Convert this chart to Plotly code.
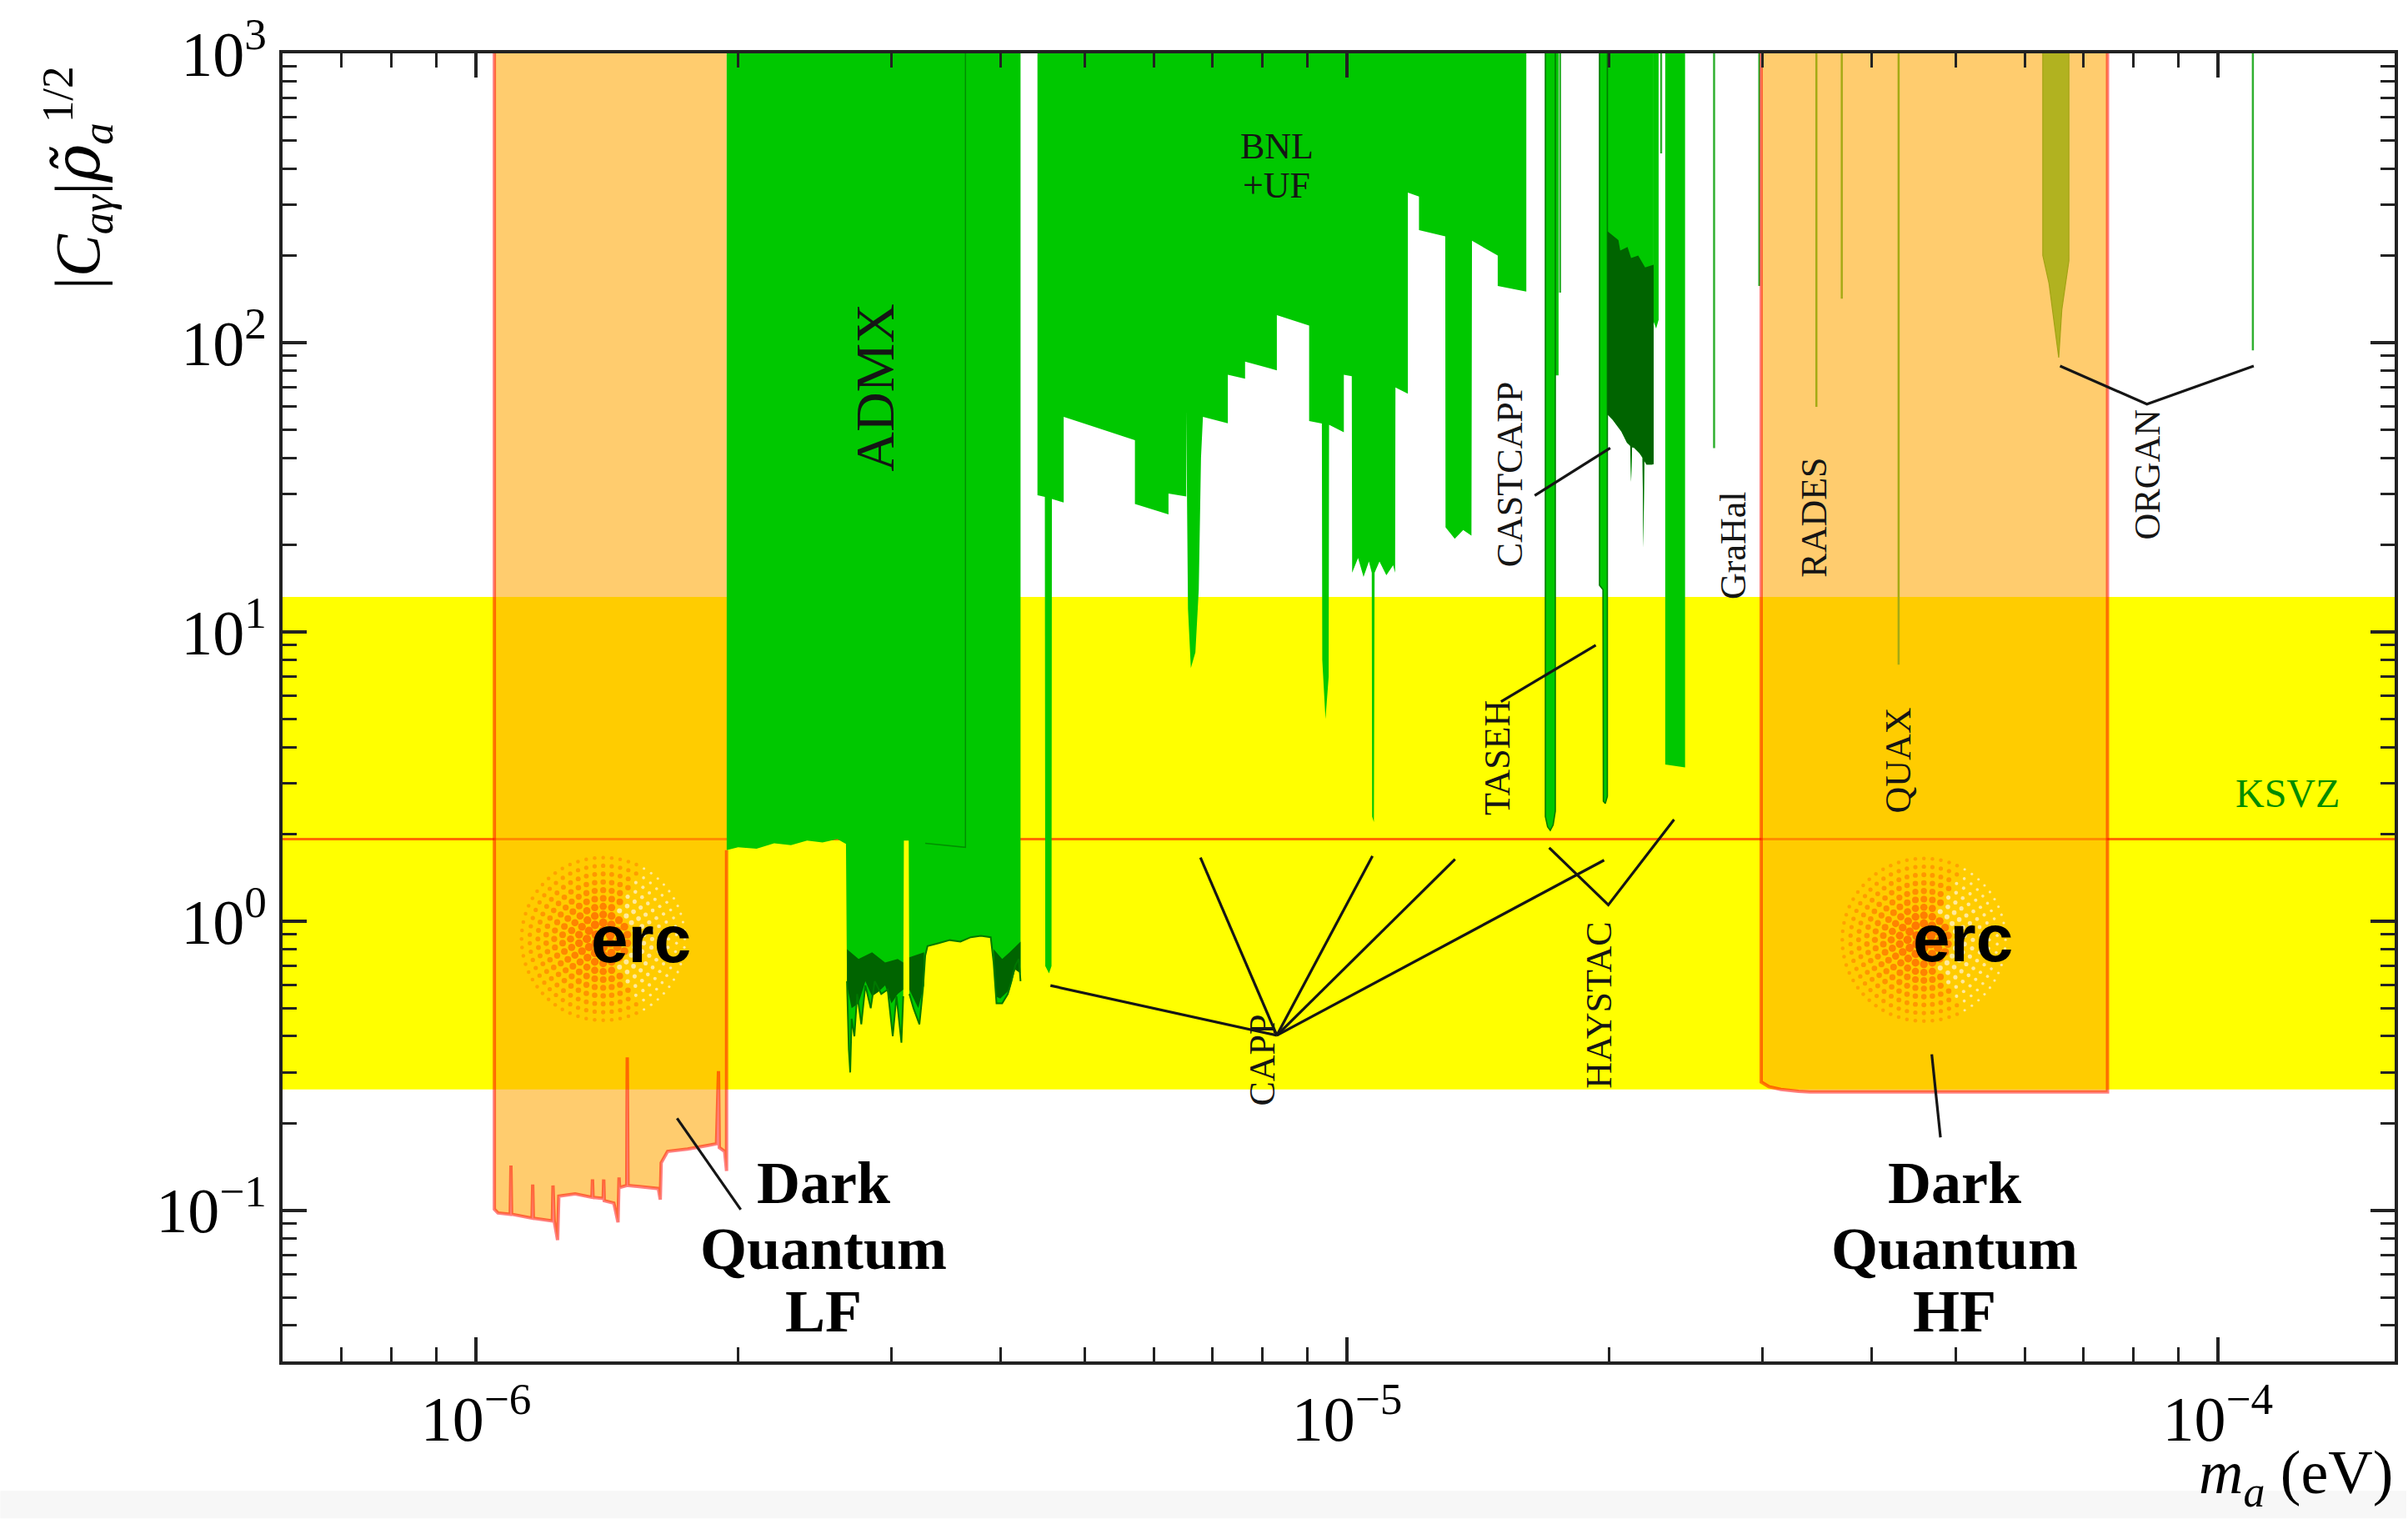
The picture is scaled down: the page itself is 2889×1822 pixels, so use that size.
import math
import plotly.graph_objects as go

# ---------------------------------------------------------------------------
# Axes (log10 of m_a in eV, log10 of |C_ag| rho^1/2)
# ---------------------------------------------------------------------------
X_LOG_RANGE = [-6.222, -3.797]
Y_LOG_RANGE = [-1.522, 3.0]
Y_TOP = 1000.0

WIDTH, HEIGHT = 2889, 1822
MARGIN = dict(l=339, r=14, t=57, b=189)

KSVZ_COUPLING = 1.92
QCD_BAND = (0.262, 13.2)

# ---------------------------------------------------------------------------
# Haloscope exclusion limits: lower edge of each excluded region
# ---------------------------------------------------------------------------
ADMX_MASS = [1.940e-6, 2.00e-6, 2.10e-6, 2.20e-6, 2.30e-6, 2.40e-6, 2.50e-6, 2.60e-6, 2.66e-6,
             2.667e-6, 2.68e-6, 2.69e-6, 2.70e-6, 2.72e-6, 2.74e-6, 2.77e-6, 2.80e-6, 2.84e-6,
             2.87e-6, 2.92e-6, 2.97e-6, 3.01e-6, 3.04e-6, 3.08e-6, 3.095e-6,
             3.100e-6, 3.140e-6,
             3.145e-6, 3.18e-6, 3.23e-6, 3.26e-6, 3.28e-6, 3.30e-6, 3.40e-6, 3.50e-6, 3.60e-6,
             3.70e-6, 3.80e-6, 3.90e-6, 3.93e-6, 3.96e-6, 4.02e-6, 4.08e-6, 4.12e-6, 4.16e-6,
             4.20e-6, 4.22e-6]
ADMX_LIMIT = [1.76, 1.80, 1.78, 1.86, 1.83, 1.90, 1.87, 1.92, 1.85,
              0.62, 0.36, 0.30, 0.46, 0.40, 0.56, 0.44, 0.60, 0.50,
              0.62, 0.56, 0.58, 0.40, 0.55, 0.38, 0.55,
              1.90, 1.90,
              0.56, 0.50, 0.44, 0.58, 0.76, 0.82, 0.84, 0.86, 0.85,
              0.88, 0.89, 0.88, 0.72, 0.52, 0.52, 0.56, 0.62, 0.70,
              0.74, 0.62]

# dense scan noise in the ADMX data (upper and lower envelope, None separates pieces)
ADMX_NOISE_MASS = [2.667e-6, 2.75e-6, 2.85e-6, 2.95e-6, 3.05e-6, 3.095e-6,
                   3.095e-6, 3.05e-6, 3.00e-6, 2.95e-6, 2.90e-6, 2.85e-6, 2.80e-6, 2.75e-6, 2.70e-6, 2.667e-6,
                   None,
                   3.145e-6, 3.27e-6, 3.27e-6, 3.22e-6, 3.145e-6,
                   None,
                   3.93e-6, 4.02e-6, 4.10e-6, 4.22e-6, 4.22e-6, 4.16e-6, 4.10e-6, 4.00e-6, 3.95e-6]
ADMX_NOISE_LIMIT = [0.80, 0.74, 0.78, 0.72, 0.74, 0.72,
                    0.58, 0.56, 0.52, 0.60, 0.57, 0.55, 0.62, 0.52, 0.50, 0.60,
                    None,
                    0.75, 0.78, 0.60, 0.50, 0.58,
                    None,
                    0.80, 0.74, 0.78, 0.85, 0.66, 0.68, 0.58, 0.54, 0.55]

BNL_MASS = [4.413e-6, 4.50e-6, 4.505e-6, 4.55e-6, 4.58e-6, 4.585e-6, 4.73e-6,
            4.73e-6, 5.71e-6, 5.71e-6, 6.24e-6, 6.24e-6, 6.54e-6,
            6.54e-6, 6.57e-6, 6.62e-6, 6.70e-6, 6.76e-6, 6.80e-6, 6.835e-6,
            7.30e-6, 7.30e-6, 7.64e-6, 7.64e-6, 8.31e-6, 8.31e-6, 9.05e-6,
            9.05e-6, 9.36e-6, 9.37e-6, 9.45e-6, 9.53e-6, 9.54e-6, 9.92e-6,
            9.92e-6, 1.013e-5, 1.014e-5, 1.030e-5, 1.045e-5, 1.060e-5, 1.068e-5,
            1.069e-5, 1.074e-5, 1.076e-5, 1.090e-5, 1.110e-5, 1.130e-5, 1.136e-5,
            1.137e-5, 1.175e-5, 1.175e-5, 1.21e-5, 1.21e-5, 1.297e-5,
            1.298e-5, 1.33e-5, 1.36e-5, 1.39e-5, 1.392e-5, 1.49e-5,
            1.49e-5, 1.607e-5]
BNL_LIMIT = [29.7, 29.3, 0.70, 0.66, 0.70, 28.8, 28.0,
             55.4, 46.0, 27.7, 25.5, 30.1, 29.4,
             58.3, 12.0, 7.5, 8.5, 14.0, 40.0, 55.4,
             52.6, 77.4, 75.0, 85.9, 80.2, 124.5, 114.5,
             53.6, 52.5, 8.0, 5.0, 7.0, 52.0, 49.0,
             77.4, 76.5, 16.0, 18.0, 15.5, 17.5, 16.0,
             2.3, 2.2, 16.0, 17.5, 15.7, 17.0, 16.0,
             70.0, 66.6, 330.0, 320.0, 245.0, 233.0,
             23.0, 21.0, 22.5, 21.5, 225.0, 200.0,
             157.0, 150.0]

CAPP_17_MASS = [1.690e-5, 1.700e-5, 1.712e-5, 1.725e-5, 1.735e-5]
CAPP_17_LIMIT = [2.30, 2.12, 2.06, 2.15, 2.40]
CAPP_175_MASS = [1.735e-5, 1.750e-5]
CAPP_175_LIMIT = [77.0, 77.0]

TASEH_MASS = [1.950e-5, 1.968e-5, 1.970e-5, 1.980e-5, 1.991e-5]
TASEH_LIMIT = [14.5, 14.0, 2.60, 2.55, 2.70]

CASTCAPP_MASS = [1.991e-5, 2.020e-5, 2.066e-5, 2.097e-5, 2.115e-5, 2.120e-5, 2.125e-5, 2.136e-5,
                 2.168e-5, 2.185e-5, 2.190e-5, 2.195e-5, 2.208e-5, 2.240e-5, 2.250e-5]
CASTCAPP_LIMIT = [56.5, 54.0, 49.3, 45.1, 44.0, 33.0, 43.5, 43.3,
                  41.4, 40.0, 19.5, 39.0, 37.9, 37.9, 38.0]
CASTCAPP_DENSE_MASS = [1.991e-5, 2.03e-5, 2.05e-5, 2.06e-5, 2.10e-5, 2.12e-5, 2.16e-5, 2.20e-5, 2.25e-5]
CASTCAPP_DENSE_LIMIT = [243.0, 232.0, 226.0, 208.0, 214.0, 196.0, 200.0, 182.0, 186.0]

STRIP_22_MASS = [2.250e-5, 2.265e-5, 2.280e-5]
STRIP_22_LIMIT = [118.0, 112.0, 120.0]

HAYSTAC_MASS = [2.320e-5, 2.445e-5]
HAYSTAC_LIMIT = [3.48, 3.40]

ORGAN_MASS = [6.295e-5, 6.40e-5, 6.48e-5, 6.566e-5, 6.62e-5, 6.70e-5, 6.745e-5]
ORGAN_LIMIT = [200.0, 160.0, 120.0, 88.7, 130.0, 170.0, 192.0]

# single narrow-band measurements: (mass, lower edge)
NARROW_MASS = [1.757e-5, 2.295e-5, 2.640e-5, 2.975e-5, 3.460e-5, 3.700e-5, 4.300e-5, 1.097e-4]
NARROW_LIMIT = [149.0, 451.0, 43.2, 157.0, 60.0, 142.0, 7.7, 94.0]

# ---------------------------------------------------------------------------
# Dark Quantum projections
# ---------------------------------------------------------------------------
DQ_LF_MASS = [1.050e-6, 1.060e-6, 1.095e-6, 1.097e-6, 1.099e-6, 1.160e-6, 1.162e-6, 1.164e-6,
              1.224e-6, 1.226e-6, 1.230e-6, 1.241e-6, 1.245e-6, 1.300e-6, 1.359e-6, 1.361e-6,
              1.363e-6, 1.400e-6, 1.402e-6, 1.404e-6, 1.440e-6, 1.456e-6, 1.460e-6, 1.462e-6,
              1.490e-6, 1.492e-6, 1.495e-6, 1.550e-6, 1.620e-6, 1.628e-6, 1.632e-6, 1.660e-6,
              1.750e-6, 1.850e-6, 1.889e-6, 1.899e-6, 1.903e-6, 1.930e-6, 1.940e-6]
DQ_LF_LIMIT = [0.101, 0.098, 0.097, 0.143, 0.097, 0.094, 0.123, 0.094,
               0.092, 0.122, 0.092, 0.079, 0.112, 0.114, 0.111, 0.128,
               0.111, 0.110, 0.128, 0.108, 0.106, 0.091, 0.130, 0.120,
               0.122, 0.338, 0.122, 0.121, 0.119, 0.109, 0.146, 0.160,
               0.163, 0.168, 0.170, 0.303, 0.165, 0.160, 0.137]

DQ_HF_MASS = [2.99e-5, 3.05e-5, 3.15e-5, 3.30e-5, 3.40e-5, 7.47e-5]
DQ_HF_LIMIT = [0.278, 0.268, 0.262, 0.258, 0.257, 0.257]

# ---------------------------------------------------------------------------
# Leader lines tying labels to their curves
# ---------------------------------------------------------------------------
CAPP_HUB = (8.31e-6, 0.403)
CAPP_TIPS = [(4.567e-6, 0.599), (6.79e-6, 1.658), (1.070e-5, 1.680), (1.331e-5, 1.636), (1.974e-5, 1.625)]
LEADERS = [
    [(1.503e-5, 5.74), (1.931e-5, 8.99)],                      # TASEH
    [(1.643e-5, 29.6), (2.006e-5, 43.2)],                      # CASTCAPP
    [(1.707e-5, 1.794), (1.996e-5, 1.138), (2.375e-5, 2.246)],  # HAYSTAC
    [(6.589e-5, 83.0), (8.29e-5, 61.3), (1.0995e-4, 83.0)],    # ORGAN
    [(1.702e-6, 0.2083), (2.014e-6, 0.1007)],                  # Dark Quantum LF
    [(4.694e-5, 0.3464), (4.803e-5, 0.1789)],                  # Dark Quantum HF
]

# text labels: (text, mass, coupling, angle, size)
EXPERIMENT_LABELS = [
    ("ADMX", 2.870e-6, 70.2, -90, 66),
    ("BNL", 8.31e-6, 476.0, 0, 44),
    ("+UF", 8.31e-6, 350.0, 0, 44),
    ("CASTCAPP", 1.539e-5, 35.1, -90, 44),
    ("TASEH", 1.489e-5, 3.66, -90, 44),
    ("GraHal", 2.777e-5, 20.0, -90, 44),
    ("RADES", 3.437e-5, 24.9, -90, 44),
    ("QUAX", 4.294e-5, 3.59, -90, 44),
    ("ORGAN", 8.31e-5, 34.9, -90, 44),
    ("HAYSTAC", 1.944e-5, 0.511, -90, 44),
    ("CAPP", 8.006e-6, 0.331, -90, 44),
]
DQ_LABEL_LINES = ["Dark", "Quantum"]
DQ_LABEL_Y = [0.1245, 0.0735, 0.0448]
DQ_LF_LABEL_X = 2.504e-6
DQ_HF_LABEL_X = 4.987e-5

ERC_DOT_CENTRES = [(1.400e-6, 0.868), (4.597e-5, 0.862)]
ERC_TEXT_POS = [(1.546e-6, 0.868), (5.099e-5, 0.873)]

GREEN = "#00C800"
DARK_GREEN = "#006400"
ORANGE_FILL = "rgba(255,165,0,0.57)"
DQ_EDGE = "rgba(255,0,0,0.5)"
INK = "#151515"
SERIF = "Liberation Serif"

PLOT_W = WIDTH - MARGIN["l"] - MARGIN["r"]
PLOT_H = HEIGHT - MARGIN["t"] - MARGIN["b"]
PX_PER_DEC_X = PLOT_W / (X_LOG_RANGE[1] - X_LOG_RANGE[0])
PX_PER_DEC_Y = PLOT_H / (Y_LOG_RANGE[1] - Y_LOG_RANGE[0])


def curtain(mass, limit, top=Y_TOP):
    """Closed region from the top of the plot down to a lower limit curve."""
    return [mass[0]] + list(mass) + [mass[-1]], [top] + list(limit) + [top]


def region(mass, limit, color, line_color=None, line_width=0):
    return go.Scatter(x=mass, y=limit, mode="lines", fill="toself", fillcolor=color,
                      line=dict(color=line_color or color, width=line_width),
                      hoverinfo="skip", showlegend=False)


def polyline(xs, ys, color, width):
    return go.Scatter(x=xs, y=ys, mode="lines", line=dict(color=color, width=width),
                      hoverinfo="skip", showlegend=False)


fig = go.Figure()

# QCD axion band and the KSVZ benchmark line
fig.add_trace(region([1e-7, 1e-3, 1e-3, 1e-7],
                     [QCD_BAND[0], QCD_BAND[0], QCD_BAND[1], QCD_BAND[1]], "#FFFF00"))
fig.add_trace(polyline([1e-7, 1e-3], [KSVZ_COUPLING, KSVZ_COUPLING], "#FF6A00", 3))

# excluded regions
for mass, limit in [(ADMX_MASS, ADMX_LIMIT), (BNL_MASS, BNL_LIMIT), (CAPP_175_MASS, CAPP_175_LIMIT),
                    (CASTCAPP_MASS, CASTCAPP_LIMIT), (STRIP_22_MASS, STRIP_22_LIMIT),
                    (HAYSTAC_MASS, HAYSTAC_LIMIT)]:
    xs, ys = curtain(mass, limit)
    fig.add_trace(region(xs, ys, GREEN))
for mass, limit in [(CAPP_17_MASS, CAPP_17_LIMIT), (TASEH_MASS, TASEH_LIMIT)]:
    xs, ys = curtain(mass, limit)
    fig.add_trace(region(xs, ys, GREEN, "#007A00", 1.6))
xs, ys = curtain(ORGAN_MASS, ORGAN_LIMIT)
fig.add_trace(region(xs, ys, "#4CC44C", "#2E9E2E", 1.2))

# dense scan structure drawn darker
fig.add_trace(region(ADMX_NOISE_MASS, ADMX_NOISE_LIMIT, DARK_GREEN))
fig.add_trace(region(CASTCAPP_DENSE_MASS + CASTCAPP_MASS[::-1],
                     CASTCAPP_DENSE_LIMIT + CASTCAPP_LIMIT[::-1], DARK_GREEN))
fig.add_trace(polyline(ADMX_MASS[9:25], ADMX_LIMIT[9:25], "#007800", 2))
fig.add_trace(polyline(ADMX_MASS[27:], ADMX_LIMIT[27:], "#007800", 2))
fig.add_trace(polyline([3.28e-6, 3.648e-6, 3.648e-6], [1.86, 1.80, Y_TOP], "#009000", 1.5))

# narrow-band measurements
nx, ny = [], []
for m, lim in zip(NARROW_MASS, NARROW_LIMIT):
    nx += [m, m, None]
    ny += [Y_TOP, lim, None]
fig.add_trace(polyline(nx, ny, "#30B030", 2.5))

# Dark Quantum projections, translucent over everything else
xs, ys = curtain(DQ_LF_MASS, DQ_LF_LIMIT)
fig.add_trace(region(xs, ys, ORANGE_FILL))
xs, ys = curtain(DQ_HF_MASS, DQ_HF_LIMIT)
fig.add_trace(region(xs, ys, ORANGE_FILL))
fig.add_trace(polyline([DQ_LF_MASS[0]] + DQ_LF_MASS + [DQ_LF_MASS[-1]],
                       [Y_TOP] + DQ_LF_LIMIT + [ADMX_LIMIT[0]], DQ_EDGE, 4))
fig.add_trace(polyline([DQ_HF_MASS[0]] + DQ_HF_MASS + [DQ_HF_MASS[-1]],
                       [Y_TOP] + DQ_HF_LIMIT + [Y_TOP], DQ_EDGE, 4))

# leader lines
lx, ly = [], []
for tip in CAPP_TIPS:
    lx += [tip[0], CAPP_HUB[0], None]
    ly += [tip[1], CAPP_HUB[1], None]
for seg in LEADERS:
    lx += [p[0] for p in seg] + [None]
    ly += [p[1] for p in seg] + [None]
fig.add_trace(polyline(lx, ly, INK, 3.2))

# ERC emblem: rings of dots around each centre
for cm, cy in ERC_DOT_CENTRES:
    dxs, dys, sizes, colors = [], [], [], []
    lm, lc = math.log10(cm), math.log10(cy)
    for k in range(1, 11):
        r = 9.8 * k
        n = 6 * k
        for j in range(n):
            a = 2 * math.pi * (j + 0.5 * (k % 2)) / n
            dx, dy = r * math.cos(a), r * math.sin(a)
            dxs.append(10 ** (lm + dx / PX_PER_DEC_X))
            dys.append(10 ** (lc + dy / PX_PER_DEC_Y))
            t = r / 98.0
            size = 11.5 - 7.0 * t
            if math.cos(a) > 0.45 and k > 3:
                colors.append("rgba(255,248,235,0.95)")
                size *= 0.7
            else:
                colors.append("rgb(255,%d,0)" % int(70 + 75 * t))
            sizes.append(size)
    fig.add_trace(go.Scatter(x=dxs, y=dys, mode="markers",
                             marker=dict(size=sizes, color=colors, line=dict(width=0)),
                             hoverinfo="skip", showlegend=False))

# ---------------------------------------------------------------------------
# Text
# ---------------------------------------------------------------------------
annotations = []
for text, m, c, ang, size in EXPERIMENT_LABELS:
    annotations.append(dict(x=math.log10(m), y=math.log10(c), xref="x", yref="y", text=text,
                            textangle=ang, showarrow=False, xanchor="center", yanchor="middle",
                            font=dict(family=SERIF, size=size, color=INK)))
annotations.append(dict(x=math.log10(1.203e-4), y=math.log10(2.776), xref="x", yref="y", text="KSVZ",
                        showarrow=False, xanchor="center", yanchor="middle",
                        font=dict(family=SERIF, size=48, color="#008C00")))
for xpos, last in [(DQ_LF_LABEL_X, "LF"), (DQ_HF_LABEL_X, "HF")]:
    for line, yv in zip(DQ_LABEL_LINES + [last], DQ_LABEL_Y):
        annotations.append(dict(x=math.log10(xpos), y=math.log10(yv), xref="x", yref="y",
                                text="<b>%s</b>" % line, showarrow=False,
                                xanchor="center", yanchor="middle",
                                font=dict(family=SERIF, size=72, color="black")))
for m, c in ERC_TEXT_POS:
    annotations.append(dict(x=math.log10(m), y=math.log10(c), xref="x", yref="y", text="<b>erc</b>",
                            showarrow=False, xanchor="center", yanchor="middle",
                            font=dict(family="Liberation Sans", size=80, color="black")))

# axis titles
annotations.append(dict(
    x=-0.097, y=0.905, xref="paper", yref="paper", textangle=-90,
    text="|<i>C</i><sub><i>aγ</i></sub>|"
         "<span style=\"font-family:DejaVu Serif\"><i>ρ̃</i></span>"
         "<sub><i>a</i></sub><sup>1/2</sup>",
    showarrow=False, xanchor="center", yanchor="middle",
    font=dict(family=SERIF, size=76, color="black")))
annotations.append(dict(x=1.0, y=-0.088, xref="paper", yref="paper",
                        text="<i>m</i><sub><i>a</i></sub> (eV)", showarrow=False,
                        xanchor="right", yanchor="middle",
                        font=dict(family=SERIF, size=74, color="black")))

X_TICKS = [1e-6, 1e-5, 1e-4]
X_TICK_TEXT = ["10<sup>−6</sup>", "10<sup>−5</sup>", "10<sup>−4</sup>"]
Y_TICKS = [0.1, 1, 10, 100, 1000]
Y_TICK_TEXT = ["10<sup>−1</sup>", "10<sup>0</sup>", "10<sup>1</sup>", "10<sup>2</sup>", "10<sup>3</sup>"]
X_MINOR = [k * 10.0 ** e for e in range(-7, -3) for k in range(2, 10)]
Y_MINOR = [k * 10.0 ** e for e in range(-2, 3) for k in range(2, 10)]

axis_common = dict(type="log", showgrid=False, zeroline=False, showline=True, linewidth=4,
                   linecolor="#222222", mirror="allticks", ticks="inside", ticklen=29,
                   tickwidth=3.5, tickcolor="#222222", tickmode="array",
                   tickfont=dict(family=SERIF, size=76, color="black"))

# faint strip along the bottom edge of the page
STRIP_TOP_PX = 1789
strip_y1 = (HEIGHT - MARGIN["b"] - STRIP_TOP_PX) / PLOT_H
strip_y0 = -MARGIN["b"] / PLOT_H

fig.update_layout(
    width=WIDTH, height=HEIGHT, margin=MARGIN,
    paper_bgcolor="white", plot_bgcolor="white", hovermode=False,
    xaxis=dict(range=X_LOG_RANGE, tickvals=X_TICKS, ticktext=X_TICK_TEXT,
               minor=dict(ticks="inside", ticklen=17, tickwidth=3, tickcolor="#222222",
                          tickvals=X_MINOR, showgrid=False),
               **axis_common),
    yaxis=dict(range=Y_LOG_RANGE, tickvals=Y_TICKS, ticktext=Y_TICK_TEXT,
               minor=dict(ticks="inside", ticklen=17, tickwidth=3, tickcolor="#222222",
                          tickvals=Y_MINOR, showgrid=False),
               **axis_common),
    annotations=annotations,
    shapes=[dict(type="rect", xref="paper", yref="paper",
                 x0=-MARGIN["l"] / PLOT_W, x1=1 + MARGIN["r"] / PLOT_W,
                 y0=strip_y0, y1=strip_y1,
                 fillcolor="#F7F7F7", line=dict(width=0), layer="below")],
)

fig.write_html("out.html")
